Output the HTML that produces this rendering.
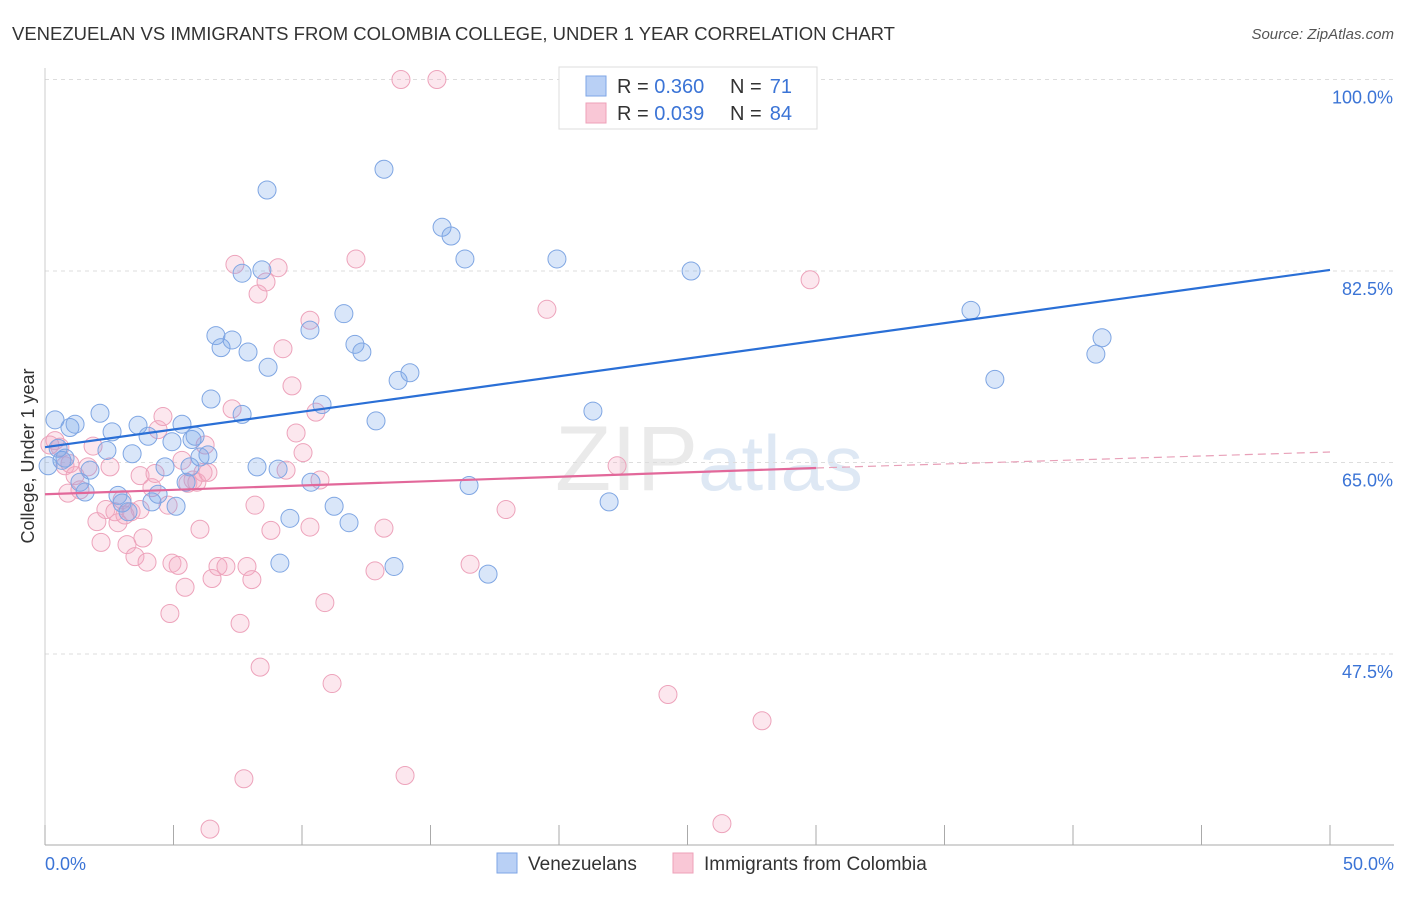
<!DOCTYPE html>
<html><head><meta charset="utf-8"><style>
body{margin:0;background:#fff;font-family:"Liberation Sans",sans-serif;}
svg text{font-family:"Liberation Sans",sans-serif;}
</style></head><body>
<svg id="chart" width="1406" height="892" xmlns="http://www.w3.org/2000/svg">
<text x="12" y="40" font-size="18" fill="#333" textLength="883" lengthAdjust="spacingAndGlyphs">VENEZUELAN VS IMMIGRANTS FROM COLOMBIA COLLEGE, UNDER 1 YEAR CORRELATION CHART</text>
<text x="1394" y="39" font-size="15" fill="#555" text-anchor="end" font-style="italic">Source: ZipAtlas.com</text>
<text x="555" y="490" font-size="92" fill="#ddd" font-family="Liberation Serif" opacity="0.6">ZIP<tspan fill="#c9d9ee" font-family="Liberation Sans" font-size="78">atlas</tspan></text>
<g id="grid"></g><g id="axes"></g><g id="pts"></g><g id="lines"></g>
<text transform="translate(34,456) rotate(-90)" font-size="18" fill="#333" text-anchor="middle">College, Under 1 year</text>
<g>
<rect x="559" y="67" width="258" height="62" fill="#fff" stroke="#ddd"/>
<rect x="586" y="76" width="20" height="20" fill="#b9d0f5" stroke="#7ea6e6"/>
<rect x="586" y="103" width="20" height="20" fill="#f9c7d6" stroke="#eea0b8"/>
<text x="617" y="93" font-size="20" fill="#333">R = <tspan fill="#3b74d6">0.360</tspan></text>
<text x="730" y="93" font-size="20" fill="#333">N =</text><text x="792" y="93" font-size="20" fill="#3b74d6" text-anchor="end">71</text>
<text x="617" y="120" font-size="20" fill="#333">R = <tspan fill="#3b74d6">0.039</tspan></text>
<text x="730" y="120" font-size="20" fill="#333">N =</text><text x="792" y="120" font-size="20" fill="#3b74d6" text-anchor="end">84</text>
</g>
<g>
<rect x="497" y="853" width="20" height="20" fill="#b9d0f5" stroke="#7ea6e6"/>
<text x="528" y="870" font-size="19" fill="#333">Venezuelans</text>
<rect x="673" y="853" width="20" height="20" fill="#f9c7d6" stroke="#eea0b8"/>
<text x="704" y="870" font-size="19" fill="#333">Immigrants from Colombia</text>
</g>
</svg>
<script>
const yTicks=[100,82.5,65,47.5];
const yTickLabels=["100.0%","82.5%","65.0%","47.5%"];
const xTickLabels=["0.0%","50.0%"];
const blueX=[0.39,0.97,1.17,0.66,0.78,1.36,1.56,1.75,2.14,2.41,2.61,2.84,3.0,3.23,3.39,3.62,4.01,4.16,4.4,4.67,4.94,5.1,5.33,5.49,5.72,5.84,6.03,6.34,6.46,6.65,6.85,7.28,7.67,7.67,7.9,8.25,8.44,8.64,8.68,9.07,9.53,10.31,10.35,10.78,11.25,11.63,11.83,12.06,12.33,12.88,13.19,13.58,13.74,14.2,15.45,15.8,16.34,16.5,17.24,19.92,21.32,21.95,25.14,36.03,36.96,40.89,41.13,9.14,5.64,0.12,0.51];
const blueY=[68.9,68.2,68.5,65.2,65.4,63.2,62.3,64.3,69.5,66.1,67.8,62.0,61.3,60.5,65.8,68.4,67.4,61.4,62.1,64.6,66.9,61.0,68.5,63.2,67.1,67.4,65.5,65.7,70.8,76.6,75.5,76.2,69.4,82.3,75.1,64.6,82.6,89.9,73.7,64.4,59.9,77.1,63.2,70.3,61.0,78.6,59.5,75.8,75.1,68.8,91.8,55.5,72.5,73.2,86.5,85.7,83.6,62.9,54.8,83.6,69.7,61.4,82.5,78.9,72.6,74.9,76.4,55.8,64.6,64.7,66.3];
const pinkX=[0.39,0.58,0.78,0.97,0.89,1.17,1.36,1.67,1.87,2.02,2.18,2.37,2.53,2.72,2.84,3.0,3.19,3.35,3.5,3.7,3.81,3.97,4.16,4.28,4.4,4.59,4.79,4.94,5.18,5.33,5.45,5.56,5.76,5.91,6.03,6.15,6.34,6.5,6.73,7.04,7.28,7.39,7.59,7.74,7.86,8.05,8.17,8.29,8.37,8.6,8.79,9.07,9.26,9.38,9.61,9.77,10.04,10.31,10.31,10.54,10.7,10.89,11.17,12.1,12.84,13.19,13.85,14.01,15.25,16.54,17.94,19.53,20.74,22.26,24.24,26.34,27.9,29.77,6.42,4.86,0.19,3.7,6.23,3.11];
const pinkY=[67.0,66.4,64.7,64.9,62.2,63.8,62.5,64.6,66.5,59.6,57.7,60.7,64.6,60.5,59.5,61.6,57.5,60.5,56.4,63.8,58.1,55.9,62.7,64.0,68.0,69.2,61.1,55.8,55.6,65.2,53.6,63.1,63.4,63.2,58.9,64.1,64.1,54.4,55.5,55.5,69.9,83.1,50.3,36.1,55.5,54.3,61.1,80.4,46.3,81.5,58.8,82.8,75.4,64.3,72.0,67.7,65.9,78.0,59.1,69.6,63.4,52.2,44.8,83.6,55.1,59.0,100.0,36.4,100.0,55.7,60.7,79.0,100.0,64.7,43.8,32.0,41.4,81.7,31.5,51.2,66.6,60.7,66.6,60.2];
const blueTrend=[[0,66.4],[50,82.6]];
const pinkTrend=[[0,62.1],[30,64.5],[50,65.96]];
const NS="http://www.w3.org/2000/svg";
const xs=v=>45+v*25.7, ys=v=>79.5+(100-v)*10.943;
function mk(t,a,p){const e=document.createElementNS(NS,t);for(const k in a)e.setAttribute(k,a[k]);document.getElementById(p).appendChild(e);return e;}
yTicks.forEach((t,i)=>{
 const g=mk('line',{x1:45,x2:1394,y1:ys(t),y2:ys(t),stroke:'#ddd','stroke-dasharray':'4,4'},'grid');
 
 
 const l=mk('text',{x:1393,y:ys(t)+24,'font-size':18,fill:'#3b74d6','text-anchor':'end'},'axes');
 l.textContent=yTickLabels[i];
 
 
});
const ax=mk('line',{x1:45,x2:1394,y1:845,y2:845,stroke:'#aaa'},'axes');


const ay=mk('line',{x1:45,x2:45,y1:68,y2:845,stroke:'#ccc'},'axes');


for(let i=0;i<=10;i++){const tk=mk('line',{x1:xs(i*5),x2:xs(i*5),y1:825,y2:845,stroke:'#aaa'},'axes');
 
 }
[[0,'start',45],[1,'end',1394]].forEach(([i,a,x])=>{const l=mk('text',{x:x,y:870,'font-size':18,fill:'#3b74d6','text-anchor':a},'axes');l.textContent=xTickLabels[i];
 
 });
function pts(X,Y,fill,stroke,name){X.forEach((x,i)=>{const c=mk('circle',{cx:xs(x),cy:ys(Y[i]),r:9,fill:fill,stroke:stroke,'stroke-width':1},'pts');
 
 });}
pts(pinkX,pinkY,'rgba(244,170,195,0.28)','#eda3bb','colombia-point');
pts(blueX,blueY,'rgba(120,165,235,0.28)','#7fa6e3','venezuelan-point');
const bl=mk('line',{x1:xs(blueTrend[0][0]),y1:ys(blueTrend[0][1]),x2:xs(blueTrend[1][0]),y2:ys(blueTrend[1][1]),stroke:'#2a6fd6','stroke-width':2.2},'lines');


const pl=mk('line',{x1:xs(pinkTrend[0][0]),y1:ys(pinkTrend[0][1]),x2:xs(pinkTrend[1][0]),y2:ys(pinkTrend[1][1]),stroke:'#e2689a','stroke-width':2.2},'lines');


const pd=mk('line',{x1:xs(pinkTrend[1][0]),y1:ys(pinkTrend[1][1]),x2:xs(pinkTrend[2][0]),y2:ys(pinkTrend[2][1]),stroke:'#e8a0b8','stroke-width':1.2,'stroke-dasharray':'8,5'},'lines');


</script>
</body></html>
